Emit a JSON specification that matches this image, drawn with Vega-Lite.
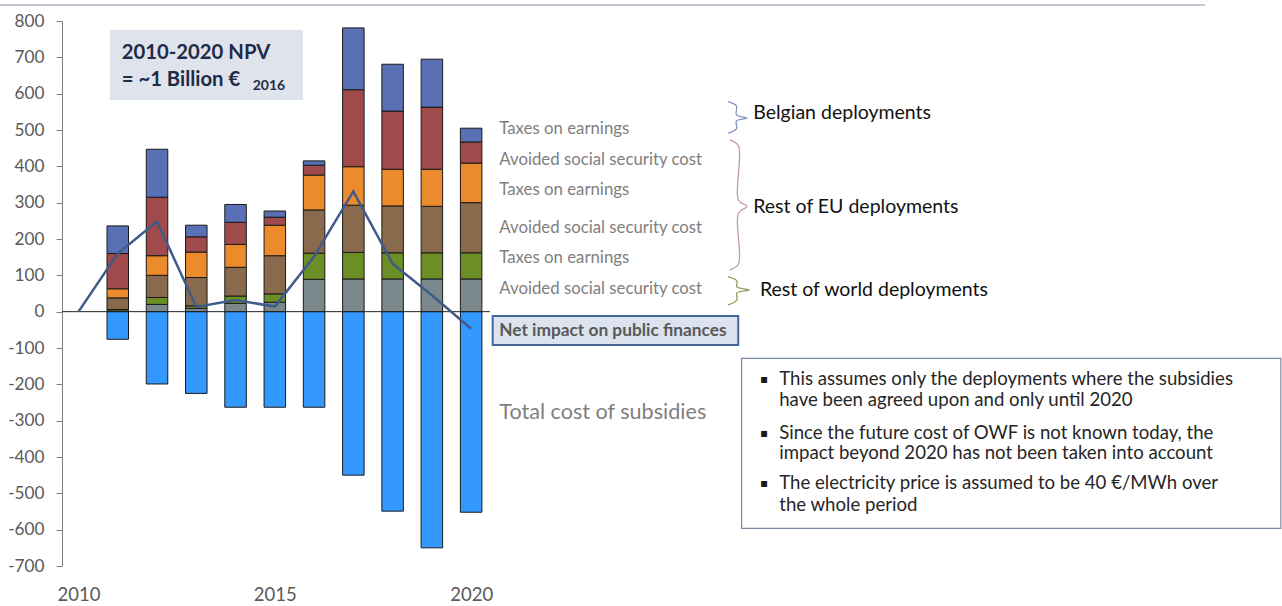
{
  "$schema": "https://vega.github.io/schema/vega-lite/v6.json",
  "width": 1220,
  "height": 545,
  "autosize": {"type": "none"},
  "padding": {"left": 62, "top": 21, "right": 0, "bottom": 40},
  "background": "white",
  "config": {"view": {"stroke": null}, "font": "Lato", "text": {"font": "Lato"}},
  "datasets": {
    "bars": [
      {"x": 2011, "series": "RoW social", "ord": 1, "y": 2},
      {"x": 2011, "series": "EU taxes 2", "ord": 2, "y": 4},
      {"x": 2011, "series": "EU social 2", "ord": 3, "y": 32},
      {"x": 2011, "series": "EU taxes 1", "ord": 4, "y": 25},
      {"x": 2011, "series": "EU social 1", "ord": 5, "y": 97},
      {"x": 2011, "series": "BE taxes", "ord": 6, "y": 76},
      {"x": 2011, "series": "Subsidies", "ord": 0, "y": -76},
      {"x": 2012, "series": "RoW social", "ord": 1, "y": 20},
      {"x": 2012, "series": "EU taxes 2", "ord": 2, "y": 19},
      {"x": 2012, "series": "EU social 2", "ord": 3, "y": 61},
      {"x": 2012, "series": "EU taxes 1", "ord": 4, "y": 54},
      {"x": 2012, "series": "EU social 1", "ord": 5, "y": 161},
      {"x": 2012, "series": "BE taxes", "ord": 6, "y": 132},
      {"x": 2012, "series": "Subsidies", "ord": 0, "y": -199},
      {"x": 2013, "series": "RoW social", "ord": 1, "y": 9},
      {"x": 2013, "series": "EU taxes 2", "ord": 2, "y": 7},
      {"x": 2013, "series": "EU social 2", "ord": 3, "y": 78},
      {"x": 2013, "series": "EU taxes 1", "ord": 4, "y": 70},
      {"x": 2013, "series": "EU social 1", "ord": 5, "y": 42},
      {"x": 2013, "series": "BE taxes", "ord": 6, "y": 32},
      {"x": 2013, "series": "Subsidies", "ord": 0, "y": -225},
      {"x": 2014, "series": "RoW social", "ord": 1, "y": 23},
      {"x": 2014, "series": "EU taxes 2", "ord": 2, "y": 20},
      {"x": 2014, "series": "EU social 2", "ord": 3, "y": 79},
      {"x": 2014, "series": "EU taxes 1", "ord": 4, "y": 63},
      {"x": 2014, "series": "EU social 1", "ord": 5, "y": 61},
      {"x": 2014, "series": "BE taxes", "ord": 6, "y": 49},
      {"x": 2014, "series": "Subsidies", "ord": 0, "y": -263},
      {"x": 2015, "series": "RoW social", "ord": 1, "y": 26},
      {"x": 2015, "series": "EU taxes 2", "ord": 2, "y": 23},
      {"x": 2015, "series": "EU social 2", "ord": 3, "y": 105},
      {"x": 2015, "series": "EU taxes 1", "ord": 4, "y": 84},
      {"x": 2015, "series": "EU social 1", "ord": 5, "y": 22},
      {"x": 2015, "series": "BE taxes", "ord": 6, "y": 17},
      {"x": 2015, "series": "Subsidies", "ord": 0, "y": -263},
      {"x": 2016, "series": "RoW social", "ord": 1, "y": 89},
      {"x": 2016, "series": "EU taxes 2", "ord": 2, "y": 72},
      {"x": 2016, "series": "EU social 2", "ord": 3, "y": 119},
      {"x": 2016, "series": "EU taxes 1", "ord": 4, "y": 96},
      {"x": 2016, "series": "EU social 1", "ord": 5, "y": 27},
      {"x": 2016, "series": "BE taxes", "ord": 6, "y": 12},
      {"x": 2016, "series": "Subsidies", "ord": 0, "y": -263},
      {"x": 2017, "series": "RoW social", "ord": 1, "y": 90},
      {"x": 2017, "series": "EU taxes 2", "ord": 2, "y": 73},
      {"x": 2017, "series": "EU social 2", "ord": 3, "y": 130},
      {"x": 2017, "series": "EU taxes 1", "ord": 4, "y": 106},
      {"x": 2017, "series": "EU social 1", "ord": 5, "y": 212},
      {"x": 2017, "series": "BE taxes", "ord": 6, "y": 170},
      {"x": 2017, "series": "Subsidies", "ord": 0, "y": -450},
      {"x": 2018, "series": "RoW social", "ord": 1, "y": 90},
      {"x": 2018, "series": "EU taxes 2", "ord": 2, "y": 72},
      {"x": 2018, "series": "EU social 2", "ord": 3, "y": 129},
      {"x": 2018, "series": "EU taxes 1", "ord": 4, "y": 101},
      {"x": 2018, "series": "EU social 1", "ord": 5, "y": 160},
      {"x": 2018, "series": "BE taxes", "ord": 6, "y": 129},
      {"x": 2018, "series": "Subsidies", "ord": 0, "y": -549},
      {"x": 2019, "series": "RoW social", "ord": 1, "y": 90},
      {"x": 2019, "series": "EU taxes 2", "ord": 2, "y": 72},
      {"x": 2019, "series": "EU social 2", "ord": 3, "y": 128},
      {"x": 2019, "series": "EU taxes 1", "ord": 4, "y": 102},
      {"x": 2019, "series": "EU social 1", "ord": 5, "y": 171},
      {"x": 2019, "series": "BE taxes", "ord": 6, "y": 132},
      {"x": 2019, "series": "Subsidies", "ord": 0, "y": -650},
      {"x": 2020, "series": "RoW social", "ord": 1, "y": 90},
      {"x": 2020, "series": "EU taxes 2", "ord": 2, "y": 72},
      {"x": 2020, "series": "EU social 2", "ord": 3, "y": 138},
      {"x": 2020, "series": "EU taxes 1", "ord": 4, "y": 109},
      {"x": 2020, "series": "EU social 1", "ord": 5, "y": 58},
      {"x": 2020, "series": "BE taxes", "ord": 6, "y": 38},
      {"x": 2020, "series": "Subsidies", "ord": 0, "y": -552}
    ],
    "net": [
      {"x": 2010, "y": 0},
      {"x": 2011, "y": 160},
      {"x": 2012, "y": 248},
      {"x": 2013, "y": 13},
      {"x": 2014, "y": 32},
      {"x": 2015, "y": 14},
      {"x": 2016, "y": 152},
      {"x": 2017, "y": 331},
      {"x": 2018, "y": 132},
      {"x": 2019, "y": 45},
      {"x": 2020, "y": -47}
    ],
    "zero": [{"x": 2009.58, "x2": 2020.48, "y": 0}],
    "topline": [{"x": 2008.0, "x2": 2038.69, "y": 844}],
    "npvbox": [{"x": 2010.80, "x2": 2015.72, "y": 775.4, "y2": 582.7}],
    "netbox": [{"x": 2020.548, "x2": 2026.802, "y": -11.8, "y2": -91.7}],
    "notebox": [{"x": 2026.888, "x2": 2040.62, "y": -128.3, "y2": -596.2}],
    "braces": [
      {"brace": "Belgian", "i": 1, "x": 2026.539, "y": 578.0},
      {"brace": "Belgian", "i": 2, "x": 2026.756, "y": 566.2},
      {"brace": "Belgian", "i": 3, "x": 2026.756, "y": 541.4},
      {"brace": "Belgian", "i": 4, "x": 2027.02, "y": 533.2},
      {"brace": "Belgian", "i": 5, "x": 2026.756, "y": 524.9},
      {"brace": "Belgian", "i": 6, "x": 2026.756, "y": 502.9},
      {"brace": "Belgian", "i": 7, "x": 2026.539, "y": 491.1},
      {"brace": "EU", "i": 1, "x": 2026.590, "y": 472.6},
      {"brace": "EU", "i": 2, "x": 2026.807, "y": 456.1},
      {"brace": "EU", "i": 3, "x": 2026.807, "y": 307.5},
      {"brace": "EU", "i": 4, "x": 2027.02, "y": 289.6},
      {"brace": "EU", "i": 5, "x": 2026.807, "y": 271.7},
      {"brace": "EU", "i": 6, "x": 2026.807, "y": 131.3},
      {"brace": "EU", "i": 7, "x": 2026.590, "y": 114.8},
      {"brace": "RoW", "i": 1, "x": 2026.539, "y": 96.3},
      {"brace": "RoW", "i": 2, "x": 2026.768, "y": 84.5},
      {"brace": "RoW", "i": 3, "x": 2026.768, "y": 68.0},
      {"brace": "RoW", "i": 4, "x": 2027.08, "y": 59.7},
      {"brace": "RoW", "i": 5, "x": 2026.768, "y": 51.5},
      {"brace": "RoW", "i": 6, "x": 2026.768, "y": 32.2},
      {"brace": "RoW", "i": 7, "x": 2026.539, "y": 18.4}
    ],
    "serieslabels": [
      {"x": 2020.716, "y": 502.1, "label": "Taxes on earnings"},
      {"x": 2020.716, "y": 417.6, "label": "Avoided  social security cost"},
      {"x": 2020.716, "y": 335.0, "label": "Taxes on earnings"},
      {"x": 2020.716, "y": 229.6, "label": "Avoided  social security cost"},
      {"x": 2020.716, "y": 147.0, "label": "Taxes on earnings"},
      {"x": 2020.716, "y": 61.7, "label": "Avoided  social security cost"}
    ],
    "grouplabels": [
      {"x": 2027.184, "y": 546.1, "label": "Belgian  deployments"},
      {"x": 2027.184, "y": 289.0, "label": "Rest of EU deployments"},
      {"x": 2027.354, "y": 59.7, "label": "Rest of world deployments"}
    ],
    "netlabel": [{"x": 2020.716, "y": -52.3, "label": "Net impact on public finances"}],
    "totallabel": [{"x": 2020.716, "y": -279.7, "label": "Total cost of subsidies"}],
    "npvtext": [
      {"x": 2011.10, "y": 694.7, "label": "2010-2020 NPV"},
      {"x": 2011.10, "y": 621.2, "label": "= ~1 Billion €"}
    ],
    "npvsub": [{"x": 2014.436, "y": 610.2, "label": "2016"}],
    "bullets": [
      {"x": 2027.354, "y": -186.1, "label": "▪"},
      {"x": 2027.354, "y": -334.7, "label": "▪"},
      {"x": 2027.354, "y": -472.3, "label": "▪"}
    ],
    "notes": [
      {"x": 2027.846, "y": -186.1, "label": "This assumes only the deployments  where the subsidies"},
      {"x": 2027.846, "y": -243.0, "label": "have been agreed upon and only until  2020"},
      {"x": 2027.846, "y": -334.7, "label": "Since the future cost of OWF is not known today, the"},
      {"x": 2027.846, "y": -389.8, "label": "impact beyond 2020 has not been taken into account"},
      {"x": 2027.846, "y": -472.3, "label": "The electricity price is assumed to be 40 €/MWh over"},
      {"x": 2027.846, "y": -532.1, "label": "the whole period"}
    ]
  },
  "encoding": {
    "x": {
      "field": "x", "type": "quantitative",
      "scale": {"domain": [2009.58, 2040.65], "nice": false, "zero": false, "padding": 0},
      "axis": {"values": [2010, 2015, 2020], "format": "d", "title": null, "domain": false, "ticks": false, "grid": false, "labelPadding": 19, "labelFontSize": 18.5, "labelColor": "#595959", "labelFont": "Lato"}
    },
    "y": {
      "field": "y", "type": "quantitative",
      "scale": {"domain": [-700, 800], "nice": false, "padding": 0},
      "axis": {"values": [-700, -600, -500, -400, -300, -200, -100, 0, 100, 200, 300, 400, 500, 600, 700, 800], "labelExpr": "datum.value < 0 ? '-' + abs(datum.value) : '' + datum.value", "title": null, "grid": false, "domainColor": "#7f7f7f", "tickColor": "#7f7f7f", "tickSize": 6, "labelPadding": 12, "labelFontSize": 17.2, "labelColor": "#595959", "labelFont": "Lato"}
    }
  },
  "layer": [
    {
      "data": {"name": "topline"},
      "mark": {"type": "rule", "color": "#8a93aa", "strokeWidth": 1},
      "encoding": {"x2": {"field": "x2"}}
    },
    {
      "data": {"name": "npvbox"},
      "mark": {"type": "rect", "color": "#dfe4ec"},
      "encoding": {"x2": {"field": "x2"}, "y2": {"field": "y2"}}
    },
    {
      "data": {"name": "notebox"},
      "mark": {"type": "rect", "fill": "white", "stroke": "#7d8aa3", "strokeWidth": 1.2},
      "encoding": {"x2": {"field": "x2"}, "y2": {"field": "y2"}}
    },
    {
      "data": {"name": "netbox"},
      "mark": {"type": "rect", "fill": "#dce3ee", "stroke": "#46679a", "strokeWidth": 2},
      "encoding": {"x2": {"field": "x2"}, "y2": {"field": "y2"}}
    },
    {
      "data": {"name": "bars"},
      "mark": {"type": "bar", "width": 21.5, "stroke": "#1a1a1a", "strokeWidth": 1},
      "encoding": {
        "color": {
          "field": "series", "type": "nominal", "legend": null,
          "scale": {
            "domain": ["BE taxes", "EU social 1", "EU taxes 1", "EU social 2", "EU taxes 2", "RoW social", "Subsidies"],
            "range": ["#5a70b4", "#a14a4b", "#ec8b2c", "#8a6a4c", "#6b8e25", "#7b898d", "#3399ff"]
          }
        },
        "order": {"field": "ord", "type": "quantitative"}
      }
    },
    {
      "data": {"name": "zero"},
      "mark": {"type": "rule", "color": "#222222", "strokeWidth": 1},
      "encoding": {"x2": {"field": "x2"}}
    },
    {
      "data": {"name": "net"},
      "mark": {"type": "line", "color": "#3f5b8c", "strokeWidth": 2.5},
      "encoding": {}
    },
    {
      "data": {"name": "braces"},
      "transform": [{"filter": "datum.brace === 'Belgian'"}],
      "mark": {"type": "line", "color": "#8494c2", "strokeWidth": 1.3, "interpolate": "catmull-rom"},
      "encoding": {"order": {"field": "i", "type": "quantitative"}}
    },
    {
      "data": {"name": "braces"},
      "transform": [{"filter": "datum.brace === 'EU'"}],
      "mark": {"type": "line", "color": "#c49d98", "strokeWidth": 1.3, "interpolate": "catmull-rom"},
      "encoding": {"order": {"field": "i", "type": "quantitative"}}
    },
    {
      "data": {"name": "braces"},
      "transform": [{"filter": "datum.brace === 'RoW'"}],
      "mark": {"type": "line", "color": "#8e9e5e", "strokeWidth": 1.3, "interpolate": "catmull-rom"},
      "encoding": {"order": {"field": "i", "type": "quantitative"}}
    },
    {
      "data": {"name": "serieslabels"},
      "mark": {"type": "text", "align": "left", "baseline": "middle", "fontSize": 16.8, "color": "#7f7f7f", "font": "Lato"},
      "encoding": {"text": {"field": "label"}}
    },
    {
      "data": {"name": "grouplabels"},
      "mark": {"type": "text", "align": "left", "baseline": "middle", "fontSize": 19.5, "color": "#111111", "font": "Lato"},
      "encoding": {"text": {"field": "label"}}
    },
    {
      "data": {"name": "netlabel"},
      "mark": {"type": "text", "align": "left", "baseline": "middle", "fontSize": 17.3, "fontWeight": "bold", "color": "#595959", "font": "Lato"},
      "encoding": {"text": {"field": "label"}}
    },
    {
      "data": {"name": "totallabel"},
      "mark": {"type": "text", "align": "left", "baseline": "middle", "fontSize": 21.6, "color": "#7f7f7f", "font": "Lato"},
      "encoding": {"text": {"field": "label"}}
    },
    {
      "data": {"name": "npvtext"},
      "mark": {"type": "text", "align": "left", "baseline": "alphabetic", "fontSize": 20.3, "fontWeight": "bold", "color": "#1f2b48", "font": "Lato"},
      "encoding": {"text": {"field": "label"}}
    },
    {
      "data": {"name": "npvsub"},
      "mark": {"type": "text", "align": "left", "baseline": "alphabetic", "fontSize": 14, "fontWeight": "bold", "color": "#1f2b48", "font": "Lato"},
      "encoding": {"text": {"field": "label"}}
    },
    {
      "data": {"name": "bullets"},
      "mark": {"type": "text", "align": "left", "baseline": "middle", "fontSize": 12, "color": "#1a1a1a", "font": "DejaVu Sans"},
      "encoding": {"text": {"field": "label"}}
    },
    {
      "data": {"name": "notes"},
      "mark": {"type": "text", "align": "left", "baseline": "middle", "fontSize": 18.6, "color": "#262626", "font": "Lato"},
      "encoding": {"text": {"field": "label"}}
    }
  ]
}
